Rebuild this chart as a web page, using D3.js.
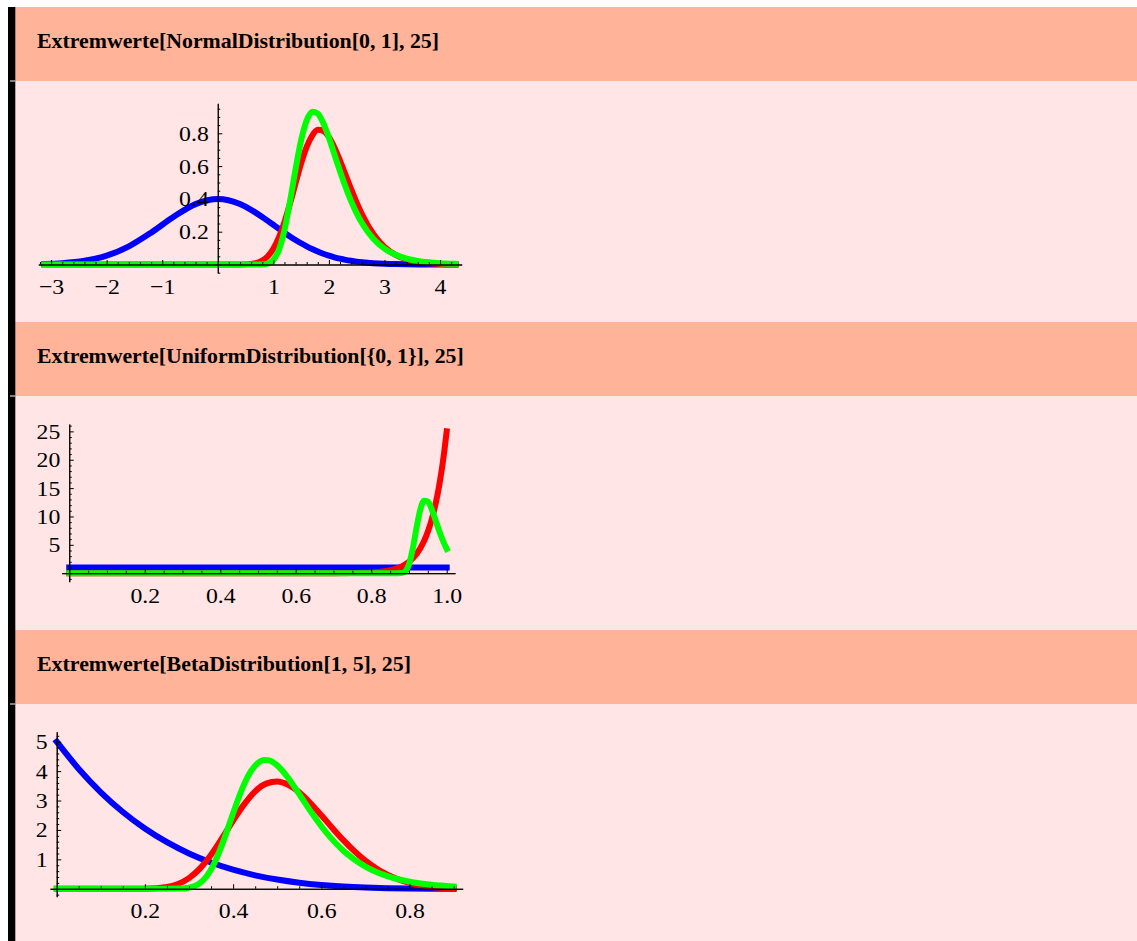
<!DOCTYPE html>
<html><head><meta charset="utf-8">
<script src="https://cdn.jsdelivr.net/npm/d3@7"></script>
<style>html,body{margin:0;padding:0;background:#fff;} svg{display:block}</style>
</head><body>
<svg id="c" width="1137" height="941"></svg>
<script>
// ---------- titles ----------
const titles = [
  "Extremwerte[NormalDistribution[0, 1], 25]",
  "Extremwerte[UniformDistribution[{0, 1}], 25]",
  "Extremwerte[BetaDistribution[1, 5], 25]"
];

// ---------- panel 1: Normal ----------
const normX     = [-3.12,-2.8,-2.4,-2.0,-1.6,-1.2,-0.8,-0.4,0,0.4,0.6,0.8,0.9,1.0,1.1,1.2,1.3,1.4,1.5,1.6,1.7,1.8,1.9,2.0,2.1,2.2,2.3,2.4,2.5,2.6,2.8,3.0,3.2,3.4,3.6,3.8,4.0,4.28];
const normBlue  = [0.0031,0.0079,0.0224,0.054,0.1109,0.1942,0.2897,0.3683,0.3989,0.3683,0.3332,0.2897,0.2661,0.242,0.2179,0.1942,0.1714,0.1497,0.1295,0.1109,0.094,0.079,0.0656,0.054,0.044,0.0355,0.0283,0.0224,0.0175,0.0136,0.0079,0.0044,0.0024,0.0012,0.0006,0.0003,0.0001,0.00004];
const normRed   = [0,0,0,0,0,0,0,0,0,0.0004,0.0038,0.0239,0.0504,0.0957,0.1645,0.258,0.372,0.4955,0.616,0.717,0.786,0.821,0.815,0.777,0.714,0.634,0.547,0.459,0.377,0.3035,0.186,0.107,0.0586,0.0306,0.0152,0.0073,0.0033,0.0012];
const normGreen = [0,0,0,0,0,0,0,0,0,0,0,0.0007,0.0056,0.0275,0.0891,0.2096,0.3848,0.5818,0.7577,0.8784,0.931,0.92,0.861,0.773,0.671,0.5686,0.4722,0.386,0.3122,0.25,0.1571,0.0971,0.0594,0.0361,0.0219,0.0132,0.0079,0.0039];
const normXTicks = [-3,-2,-1,1,2,3,4];
const normXLabels = ["\u22123","\u22122","\u22121","1","2","3","4"];
const normYTicks = [0.2,0.4,0.6,0.8];
const normYLabels = ["0.2","0.4","0.6","0.8"];

// ---------- panel 2: Uniform ----------
const unifBlueX  = [0,1];
const unifBlue   = [1,1];
const unifRedX   = [0,0.6,0.7,0.75,0.8,0.82,0.84,0.86,0.88,0.9,0.92,0.93,0.94,0.95,0.96,0.97,0.98,0.99,1.0];
const unifRed    = [0,0.0001,0.0048,0.025,0.118,0.2135,0.381,0.669,1.163,1.994,3.38,4.38,5.66,7.3,9.38,12.04,15.39,19.64,25];
const unifGreenX = [0,0.85,0.87,0.88,0.89,0.9,0.91,0.92,0.93,0.94,0.95,0.96,0.97,0.98,0.99,1.0];
const unifGreen  = [0,0,0.0007,0.026,0.302,1.52,4.28,8.0,11.19,12.78,12.64,11.32,9.43,7.48,5.73,4.28];
const unifXTicks = [0.2,0.4,0.6,0.8,1.0];
const unifXLabels = ["0.2","0.4","0.6","0.8","1.0"];
const unifYTicks = [5,10,15,20,25];
const unifYLabels = ["5","10","15","20","25"];

// ---------- panel 3: Beta ----------
const betaBlueX  = [0,0.05,0.1,0.15,0.2,0.25,0.3,0.35,0.4,0.45,0.5,0.55,0.6,0.65,0.7,0.75,0.8,0.85,0.9];
const betaBlue   = [5,4.073,3.28,2.61,2.048,1.582,1.2005,0.8925,0.648,0.4575,0.3125,0.205,0.128,0.075,0.0405,0.0195,0.008,0.0025,0.0005];
const betaRedX   = [0,0.15,0.2,0.25,0.275,0.3,0.325,0.35,0.375,0.4,0.425,0.45,0.475,0.5,0.525,0.55,0.575,0.6,0.625,0.65,0.675,0.7,0.725,0.75,0.775,0.8,0.85,0.9];
const betaRed    = [0,0,0.0037,0.0594,0.1616,0.3625,0.693,1.157,1.72,2.321,2.868,3.312,3.575,3.647,3.536,3.278,2.917,2.4995,2.068,1.653,1.278,0.955,0.688,0.477,0.316,0.1985,0.0632,0.0125];
const betaGreenX = [0,0.28,0.3,0.32,0.34,0.36,0.38,0.4,0.42,0.44,0.46,0.47,0.48,0.5,0.52,0.54,0.56,0.58,0.6,0.62,0.65,0.7,0.75,0.8,0.85,0.9];
const betaGreen  = [0,0.005,0.034,0.1436,0.4245,0.95,1.705,2.571,3.381,3.987,4.316,4.375,4.369,4.194,3.862,3.44,2.986,2.539,2.125,1.756,1.295,0.755,0.429,0.24,0.134,0.075];
const betaXTicks = [0.2,0.4,0.6,0.8];
const betaXLabels = ["0.2","0.4","0.6","0.8"];
const betaYTicks = [1,2,3,4,5];
const betaYLabels = ["1","2","3","4","5"];

// ---------- layout ----------
const W = 1137, H = 941;
const HEADER_FILL = "#ffb399", BODY_FILL = "#ffe5e5";
const sections = [{top:7, bottom:322},{top:322, bottom:630},{top:630, bottom:941}];
const HEADER_H = 74;

const zip = (xs, ys) => xs.map((v,i)=>[v, ys[i]]);
const round = v => Math.round(v*1e6)/1e6;

const panels = [
  { xd:[-3.23,4.39], xr:[38.3,461.7], yd:[-0.05,0.983], yr:[272.7,103.3],
    xMaj:normXTicks, xLab:normXLabels, xMinStep:0.2, yMaj:normYTicks, yLab:normYLabels, yMinStep:0.05,
    series:[zip(normX,normBlue), zip(normX,normRed), zip(normX,normGreen)] },
  { xd:[-0.02,1.022], xr:[61.7,455], yd:[-1.5,26.3], yr:[581.7,424],
    xMaj:unifXTicks, xLab:unifXLabels, xMinStep:0.05, yMaj:unifYTicks, yLab:unifYLabels, yMinStep:1,
    series:[zip(unifBlueX,unifBlue), zip(unifRedX,unifRed), zip(unifGreenX,unifGreen)] },
  { xd:[-0.0152,0.9206], xr:[50,462.7], yd:[-0.27,5.34], yr:[896.7,731.7],
    xMaj:betaXTicks, xLab:betaXLabels, xMinStep:0.05, yMaj:betaYTicks, yLab:betaYLabels, yMinStep:0.2,
    series:[zip(betaBlueX,betaBlue), zip(betaRedX,betaRed), zip(betaGreenX,betaGreen)] }
];
const colors = ["#0000ff","#ff0000","#00ff00"];

const svg = d3.select("#c");
svg.append("rect").attr("x",0).attr("y",0).attr("width",W).attr("height",H).attr("fill","#fff");

sections.forEach((s,i)=>{
  svg.append("rect").attr("x",15).attr("y",s.top).attr("width",W-15).attr("height",HEADER_H).attr("fill",HEADER_FILL);
  svg.append("rect").attr("x",15).attr("y",s.top+HEADER_H).attr("width",W-15).attr("height",s.bottom-s.top-HEADER_H).attr("fill",BODY_FILL);
  const widths=[402,426.7,374];
  svg.append("text").attr("x",37).attr("y",s.top+41)
    .attr("font-family","'Liberation Serif','Times New Roman',serif").attr("font-weight","bold")
    .attr("font-size",21).attr("fill","#000")
    .attr("textLength",widths[i]).attr("lengthAdjust","spacingAndGlyphs")
    .text(titles[i]);
});
// left black bar
svg.append("rect").attr("x",8).attr("y",7).attr("width",7.3).attr("height",H-7).attr("fill","#000");
sections.forEach(s=>{
  svg.append("rect").attr("x",10).attr("y",s.top+HEADER_H-0.5).attr("width",5.3).attr("height",1).attr("fill","#fff");
});

const FONT = "'Liberation Serif','Times New Roman',serif";
function styleLabels(g){
  g.attr("font-family",FONT).attr("font-size",22).attr("color","#000");
  g.selectAll("text").each(function(){
    const t = d3.select(this);
    const xv = +(t.attr("x")||0);
    t.attr("x",0).attr("transform",`translate(${xv},0) scale(1.08,1)`);
  });
}

panels.forEach(p=>{
  const x = d3.scaleLinear().domain(p.xd).range(p.xr);
  const y = d3.scaleLinear().domain(p.yd).range(p.yr);
  const g = svg.append("g");
  const line = d3.line().x(d=>x(d[0])).y(d=>y(d[1])).curve(d3.curveMonotoneX);
  p.series.forEach((s,i)=>{
    g.append("path").datum(s).attr("d",line).attr("fill","none")
      .attr("stroke",colors[i]).attr("stroke-width",6)
      .attr("stroke-linecap","square").attr("stroke-linejoin","round");
  });
  // minor ticks
  const xMinor = d3.range(Math.ceil(p.xd[0]/p.xMinStep), Math.floor(p.xd[1]/p.xMinStep)+1)
      .map(k=>round(k*p.xMinStep)).filter(v=>v!==0 && !p.xMaj.some(m=>Math.abs(m-v)<1e-9));
  const yMinor = d3.range(Math.ceil(p.yd[0]/p.yMinStep), Math.floor(p.yd[1]/p.yMinStep)+1)
      .map(k=>round(k*p.yMinStep)).filter(v=>v!==0 && !p.yMaj.some(m=>Math.abs(m-v)<1e-9));

  const gx = g.append("g").attr("transform",`translate(0,${y(0)})`);
  gx.append("g").call(d3.axisBottom(x).tickValues(xMinor).tickSize(-2.5).tickSizeOuter(0).tickFormat(""))
    .attr("color","#000");
  const gxm = gx.append("g").call(d3.axisBottom(x).tickValues(p.xMaj).tickSize(-4.5).tickSizeOuter(0)
      .tickPadding(14).tickFormat((d,i)=>p.xLab[i]));
  styleLabels(gxm);

  const gy = g.append("g").attr("transform",`translate(${x(0)},0)`);
  gy.append("g").call(d3.axisLeft(y).tickValues(yMinor).tickSize(-2.5).tickSizeOuter(0).tickFormat(""))
    .attr("color","#000");
  const gym = gy.append("g").call(d3.axisLeft(y).tickValues(p.yMaj).tickSize(-4.5).tickSizeOuter(0)
      .tickPadding(9).tickFormat((d,i)=>p.yLab[i]));
  styleLabels(gym);
  g.selectAll(".domain").attr("stroke-width",1);
});
</script>
</body></html>
